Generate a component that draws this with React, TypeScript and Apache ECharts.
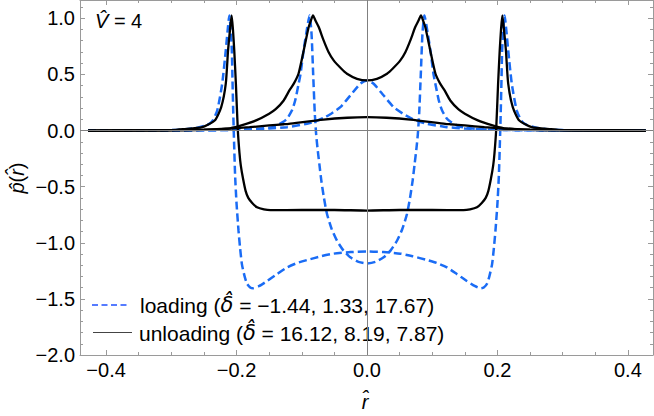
import React, { useEffect, useRef } from 'react';
import * as echarts from 'echarts';

// ---------- data ----------
const xMajorTicks = [-0.4, -0.2, 0, 0.2, 0.4];
const xMinorTicks = [-0.4, -0.35, -0.3, -0.25, -0.2, -0.15, -0.1, -0.05, 0, 0.05, 0.1, 0.15, 0.2, 0.25, 0.3, 0.35, 0.4];
const yMajorTicks = [-2, -1.5, -1, -0.5, 0, 0.5, 1];
const yMinorTicks = [-2, -1.9, -1.8, -1.7, -1.6, -1.5, -1.4, -1.3, -1.2, -1.1, -1, -0.9, -0.8, -0.7, -0.6, -0.5, -0.4, -0.3, -0.2, -0.1, 0, 0.1, 0.2, 0.3, 0.4, 0.5, 0.6, 0.7, 0.8, 0.9, 1, 1.1];

const loadingOuter: number[][] = [
  [-0.4275, 0], [-0.35, 0.001], [-0.3, 0.004], [-0.28, 0.01], [-0.26, 0.025], [-0.245, 0.05], [-0.237, 0.085],
  [-0.2295, 0.18], [-0.222, 0.417], [-0.2165, 0.714], [-0.2135, 0.9], [-0.211, 1.026], [-0.209, 0.9],
  [-0.2072, 0.714], [-0.2062, 0.45], [-0.205, 0.15], [-0.2038, -0.1], [-0.2022, -0.4], [-0.2, -0.65],
  [-0.197, -0.89], [-0.1945, -1.05], [-0.1918, -1.19], [-0.188, -1.29], [-0.184, -1.365], [-0.179, -1.398],
  [-0.1745, -1.405], [-0.165, -1.385], [-0.153, -1.34], [-0.138, -1.28], [-0.1226, -1.22], [-0.107, -1.18],
  [-0.092, -1.154], [-0.07, -1.12], [-0.0511, -1.097], [-0.025, -1.083], [0, -1.077],
  [0.025, -1.083], [0.0511, -1.097], [0.07, -1.12], [0.092, -1.154], [0.107, -1.18], [0.1226, -1.22],
  [0.138, -1.28], [0.153, -1.34], [0.165, -1.385], [0.1745, -1.405], [0.179, -1.398], [0.184, -1.365],
  [0.188, -1.29], [0.1918, -1.19], [0.1945, -1.05], [0.197, -0.89], [0.2, -0.65], [0.2022, -0.4],
  [0.2038, -0.1], [0.205, 0.15], [0.2062, 0.45], [0.2072, 0.714], [0.209, 0.9], [0.211, 1.026],
  [0.2135, 0.9], [0.2165, 0.714], [0.222, 0.417], [0.2295, 0.18], [0.237, 0.085], [0.245, 0.05],
  [0.26, 0.025], [0.28, 0.01], [0.3, 0.004], [0.35, 0.001], [0.4275, 0],
];

const loadingMiddle: number[][] = [
  [-0.4275, 0], [-0.3, 0.001], [-0.22, 0.004], [-0.18, 0.01], [-0.15, 0.025], [-0.14, 0.04], [-0.1277, 0.08],
  [-0.122, 0.11], [-0.115, 0.18], [-0.11, 0.27], [-0.1048, 0.417], [-0.102, 0.5], [-0.0972, 0.714],
  [-0.093, 0.87], [-0.088, 1.026], [-0.085, 0.86], [-0.0825, 0.5], [-0.08, 0.15], [-0.078, -0.03],
  [-0.076, -0.15], [-0.073, -0.3], [-0.07, -0.446], [-0.066, -0.6], [-0.0613, -0.744], [-0.054, -0.88],
  [-0.046, -0.982], [-0.036, -1.07], [-0.0256, -1.13], [-0.013, -1.17], [0, -1.184],
  [0.013, -1.17], [0.0256, -1.13], [0.036, -1.07], [0.046, -0.982], [0.054, -0.88], [0.0613, -0.744],
  [0.066, -0.6], [0.07, -0.446], [0.073, -0.3], [0.076, -0.15], [0.078, -0.03], [0.08, 0.15],
  [0.0825, 0.5], [0.085, 0.86], [0.088, 1.026], [0.093, 0.87], [0.0972, 0.714], [0.102, 0.5],
  [0.1048, 0.417], [0.11, 0.27], [0.115, 0.18], [0.122, 0.11], [0.1277, 0.08], [0.14, 0.04],
  [0.15, 0.025], [0.18, 0.01], [0.22, 0.004], [0.3, 0.001], [0.4275, 0],
];

const loadingCenter: number[][] = [
  [-0.4275, 0], [-0.3, 0.0005], [-0.25, 0.002], [-0.19, 0.008], [-0.15, 0.018], [-0.1226, 0.03],
  [-0.092, 0.06], [-0.08, 0.08], [-0.0665, 0.112], [-0.055, 0.15], [-0.0409, 0.208], [-0.0256, 0.312],
  [-0.0102, 0.417], [0, 0.446], [0.0102, 0.417], [0.0256, 0.312], [0.0409, 0.208], [0.055, 0.15],
  [0.0665, 0.112], [0.08, 0.08], [0.092, 0.06], [0.1226, 0.03], [0.15, 0.018], [0.19, 0.008],
  [0.25, 0.002], [0.3, 0.0005], [0.4275, 0],
];

const unloadingOuter: number[][] = [
  [-0.4275, 0], [-0.35, 0.001], [-0.3, 0.004], [-0.282, 0.012], [-0.2525, 0.03], [-0.2335, 0.089],
  [-0.2235, 0.208], [-0.2165, 0.417], [-0.213, 0.714], [-0.21, 0.9], [-0.2075, 1.026], [-0.2055, 0.9],
  [-0.2035, 0.714], [-0.201, 0.417], [-0.198, 0], [-0.1955, -0.2], [-0.1935, -0.31], [-0.19, -0.43],
  [-0.186, -0.54], [-0.182, -0.6], [-0.176, -0.645], [-0.1686, -0.684], [-0.158, -0.703], [-0.148, -0.71],
  [-0.1, -0.708], [-0.05, -0.708], [0, -0.713], [0.05, -0.708], [0.1, -0.708], [0.148, -0.71],
  [0.158, -0.703], [0.1686, -0.684], [0.176, -0.645], [0.182, -0.6], [0.186, -0.54], [0.19, -0.43],
  [0.1935, -0.31], [0.1955, -0.2], [0.198, 0], [0.201, 0.417], [0.2035, 0.714], [0.2055, 0.9],
  [0.2075, 1.026], [0.21, 0.9], [0.213, 0.714], [0.2165, 0.417], [0.2235, 0.208], [0.2335, 0.089],
  [0.2525, 0.03], [0.282, 0.012], [0.3, 0.004], [0.35, 0.001], [0.4275, 0],
];

const unloadingMiddle: number[][] = [
  [-0.4275, 0], [-0.3, 0.001], [-0.26, 0.004], [-0.23, 0.01], [-0.21, 0.02], [-0.19, 0.05], [-0.17, 0.09],
  [-0.15, 0.15], [-0.14, 0.19], [-0.1277, 0.268], [-0.119, 0.357], [-0.112, 0.42], [-0.105, 0.506],
  [-0.097, 0.714], [-0.0894, 0.922], [-0.086, 0.98], [-0.0828, 1.026], [-0.079, 0.98], [-0.074, 0.922],
  [-0.0665, 0.803], [-0.059, 0.7], [-0.0511, 0.625], [-0.04, 0.555], [-0.0307, 0.506], [-0.0153, 0.461],
  [0, 0.446], [0.0153, 0.461], [0.0307, 0.506], [0.04, 0.555], [0.0511, 0.625], [0.059, 0.7],
  [0.0665, 0.803], [0.074, 0.922], [0.079, 0.98], [0.0828, 1.026], [0.086, 0.98], [0.0894, 0.922],
  [0.097, 0.714], [0.105, 0.506], [0.112, 0.42], [0.119, 0.357], [0.1277, 0.268], [0.14, 0.19],
  [0.15, 0.15], [0.17, 0.09], [0.19, 0.05], [0.21, 0.02], [0.23, 0.01], [0.26, 0.004], [0.3, 0.001], [0.4275, 0],
];

const unloadingFlat: number[][] = [
  [-0.4275, 0], [-0.33, 0.001], [-0.27, 0.005], [-0.25, 0.008], [-0.21, 0.018], [-0.18, 0.03], [-0.15, 0.045],
  [-0.1277, 0.056], [-0.12, 0.06], [-0.0665, 0.098], [-0.03, 0.114], [0, 0.119], [0.03, 0.114],
  [0.0665, 0.098], [0.12, 0.06], [0.1277, 0.056], [0.15, 0.045], [0.18, 0.03], [0.21, 0.018],
  [0.25, 0.008], [0.27, 0.005], [0.33, 0.001], [0.4275, 0],
];

const loadingLabel = ['loading (', '\u03B4\u0302', ' = \u22121.44, 1.33, 17.67)'];
const unloadingLabel = ['unloading (', '\u03B4\u0302', ' = 16.12, 8.19, 7.87)'];

// ---------- style ----------
const FONT = '"Liberation Sans", Arial, sans-serif';
const GREY = '#9a9a9a';
const BLUE = '#1a6cf5';
const X_MIN = -0.44;
const X_MAX = 0.4385;
const Y_MIN = -2;
const Y_MAX = 1.163;
const FS = 20;
const LFS = 21;

const fmt = (v: number) => (v < -1e-9 ? '\u2212' : '') + Math.abs(v).toFixed(1);

function xAxis(position: string, ticks: number[], len: number, line: boolean, label: boolean) {
  return {
    type: 'value', min: X_MIN, max: X_MAX, position,
    axisLine: { show: line, onZero: false, lineStyle: { color: GREY, width: 1 } },
    axisTick: { show: true, inside: true, length: len, customValues: ticks, lineStyle: { color: GREY, width: 1 } },
    axisLabel: label
      ? { show: true, customValues: ticks, formatter: fmt, fontSize: FS, fontFamily: FONT, color: '#000', margin: 5 }
      : { show: false },
    splitLine: { show: false },
  };
}
function yAxis(position: string, ticks: number[], len: number, line: boolean, label: boolean) {
  return {
    type: 'value', min: Y_MIN, max: Y_MAX, position,
    axisLine: { show: line, onZero: false, lineStyle: { color: GREY, width: 1 } },
    axisTick: { show: true, inside: true, length: len, customValues: ticks, lineStyle: { color: GREY, width: 1 } },
    axisLabel: label
      ? { show: true, customValues: ticks, formatter: fmt, fontSize: FS, fontFamily: FONT, color: '#000', margin: 5 }
      : { show: false },
    splitLine: { show: false },
  };
}

function curve(data: number[][], color: string, dashed: boolean) {
  return {
    type: 'line', data, xAxisIndex: 0, yAxisIndex: 0, showSymbol: false, symbol: 'none',
    smooth: 0.2, silent: true,
    lineStyle: { color, width: dashed ? 2.5 : 2.3, type: dashed ? [8, 4] : 'solid' },
  };
}

export default function App() {
  const ref = useRef<HTMLDivElement>(null);
  useEffect(() => {
    if (!ref.current) return;
    const chart = echarts.init(ref.current, undefined, { renderer: 'svg' });
    const rich = {
      i: { fontStyle: 'italic', fontSize: FS, fontFamily: FONT, fill: '#000' },
      n: { fontSize: FS, fontFamily: FONT, fill: '#000' },
      li: { fontStyle: 'italic', fontSize: LFS, fontFamily: '"DejaVu Sans", sans-serif', fill: '#000' },
      ln: { fontSize: LFS, fontFamily: FONT, fill: '#000' },
    };
    chart.setOption({
      animation: false,
      backgroundColor: '#fff',
      grid: { left: 80, right: 1, top: 0, bottom: 61, containLabel: false },
      xAxis: [
        xAxis('bottom', xMajorTicks, 5, true, true),
        xAxis('top', xMajorTicks, 5, true, false),
        xAxis('bottom', xMinorTicks, 3, false, false),
        xAxis('top', xMinorTicks, 3, false, false),
      ],
      yAxis: [
        yAxis('left', yMajorTicks, 5, true, true),
        yAxis('right', yMajorTicks, 5, true, false),
        yAxis('left', yMinorTicks, 3, false, false),
        yAxis('right', yMinorTicks, 3, false, false),
      ],
      series: [
        {
          type: 'line', data: [], xAxisIndex: 0, yAxisIndex: 0, silent: true,
          markLine: {
            silent: true, symbol: ['none', 'none'], label: { show: false },
            lineStyle: { color: '#808080', width: 1, type: 'solid' },
            data: [{ xAxis: 0 }, { yAxis: 0 }],
          },
        },
        curve(loadingOuter, BLUE, true),
        curve(loadingMiddle, BLUE, true),
        curve(loadingCenter, BLUE, true),
        curve(unloadingOuter, '#000', false),
        curve(unloadingMiddle, '#000', false),
        curve(unloadingFlat, '#000', false),
      ],
      graphic: [
        {
          type: 'text', x: 95, y: 21,
          style: { text: '{i|V\u0302}{n| = 4}', rich, verticalAlign: 'middle', align: 'left' },
        },
        {
          type: 'text', x: 17, y: 178, rotation: Math.PI / 2,
          style: { text: '{i|p\u0302}{n|(}{i|r\u0302}{n|)}', rich, verticalAlign: 'middle', align: 'center' },
        },
        {
          type: 'text', x: 365, y: 402,
          style: { text: '{i|r\u0302}', rich, verticalAlign: 'middle', align: 'center' },
        },
        {
          type: 'line', shape: { x1: 92, y1: 305, x2: 130, y2: 305 },
          style: { stroke: '#1f50ff', lineWidth: 1.5, lineDash: [6, 3.5] },
        },
        {
          type: 'line', shape: { x1: 93, y1: 332.5, x2: 132, y2: 332.5 },
          style: { stroke: '#444', lineWidth: 1 },
        },
        {
          type: 'text', x: 140, y: 305,
          style: { text: `{ln|${loadingLabel[0]}}{li|${loadingLabel[1]}}{ln|${loadingLabel[2]}}`, rich, verticalAlign: 'middle', align: 'left' },
        },
        {
          type: 'text', x: 139, y: 333,
          style: { text: `{ln|${unloadingLabel[0]}}{li|${unloadingLabel[1]}}{ln|${unloadingLabel[2]}}`, rich, verticalAlign: 'middle', align: 'left' },
        },
      ],
    });
    return () => chart.dispose();
  }, []);
  return <div ref={ref} style={{ position: 'fixed', left: 0, top: 0, width: 654, height: 416, background: '#fff' }} />;
}
